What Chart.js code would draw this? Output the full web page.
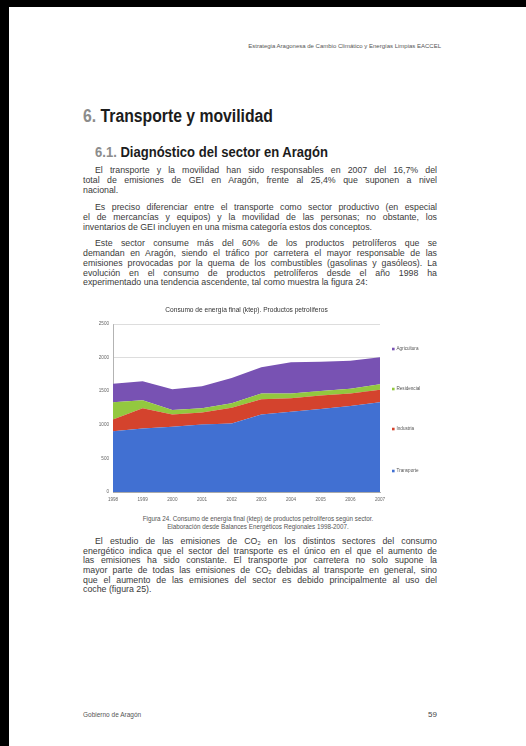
<!DOCTYPE html>
<html>
<head>
<meta charset="utf-8">
<script src="https://cdn.jsdelivr.net/npm/chart.js@4/dist/chart.umd.min.js"></script>
<style>
  html, body { margin: 0; padding: 0; background: #000; width: 526px; height: 746px; overflow: hidden; }
  #page { position: absolute; left: 9px; top: 7px; width: 517px; height: 739px; background: #fff; }
  .t { position: absolute; white-space: nowrap; font-family: "Liberation Sans", Arial, sans-serif; color: #3a3a3a; }
  .body { font-size: 8.8px; line-height: 10px; height: 10px; }
  .jus { text-align: justify; text-align-last: justify; }
  .h { font-weight: bold; color: #1c1c1c; transform-origin: 0 50%; }
  .num { color: #8c8c8c; }
  .small { font-size: 6px; color: #555; line-height: 8px; }
  #chartBox { position: absolute; left: 88px; top: 301px; width: 352px; height: 206px; }
</style>
</head>
<body>
<div id="page"></div>

<div class="t small" id="hdr" style="top:42px;right:85px;">Estrategia Aragonesa de Cambio Climático y Energías Limpias EACCEL</div>

<div class="t h" data-fit="190" style="left:83px;top:105px;font-size:18px;line-height:22px;"><span class="num">6.</span> Transporte y movilidad</div>
<div class="t h" data-fit="233" style="left:95px;top:143px;font-size:14px;line-height:18px;"><span class="num">6.1.</span> Diagnóstico del sector en Aragón</div>

<div class="t body jus" style="left:95px;top:165px;width:342px;">El transporte y la movilidad han sido responsables en 2007 del 16,7% del</div>
<div class="t body jus" style="left:83px;top:175px;width:354px;">total de emisiones de GEI en Aragón, frente al 25,4% que suponen a nivel</div>
<div class="t body" style="left:83px;top:184.5px;">nacional.</div>

<div class="t body jus" style="left:95px;top:202.3px;width:342px;">Es preciso diferenciar entre el transporte como sector productivo (en especial</div>
<div class="t body jus" style="left:83px;top:212.3px;width:354px;">el de mercancías y equipos) y la movilidad de las personas; no obstante, los</div>
<div class="t body" style="left:83px;top:222.3px;">inventarios de GEI incluyen en una misma categoría estos dos conceptos.</div>

<div class="t body jus" style="left:95px;top:238.3px;width:342px;">Este sector consume más del 60% de los productos petrolíferos que se</div>
<div class="t body jus" style="left:83px;top:248px;width:354px;">demandan en Aragón, siendo el tráfico por carretera el mayor responsable de las</div>
<div class="t body jus" style="left:83px;top:257.7px;width:354px;">emisiones provocadas por la quema de los combustibles (gasolinas y gasóleos). La</div>
<div class="t body jus" style="left:83px;top:267.5px;width:354px;">evolución en el consumo de productos petrolíferos desde el año 1998 ha</div>
<div class="t body" style="left:83px;top:277.3px;">experimentado una tendencia ascendente, tal como muestra la figura 24:</div>

<div id="chartBox"><canvas id="chart"></canvas></div>

<div class="t small" style="left:0;width:516px;text-align:center;top:515px;font-size:6.3px;">Figura 24. Consumo de energía final (ktep) de productos petrolíferos según sector.</div>
<div class="t small" style="left:0;width:516px;text-align:center;top:523px;font-size:6.3px;">Elaboración desde Balances Energéticos Regionales 1998-2007.</div>

<div class="t body jus" style="left:95px;top:536px;width:342px;">El estudio de las emisiones de CO<sub style="font-size:5.5px;vertical-align:-1px;">2</sub> en los distintos sectores del consumo</div>
<div class="t body jus" style="left:83px;top:545.7px;width:354px;">energético indica que el sector del transporte es el único en el que el aumento de</div>
<div class="t body jus" style="left:83px;top:555.3px;width:354px;">las emisiones ha sido constante. El transporte por carretera no solo supone la</div>
<div class="t body jus" style="left:83px;top:565px;width:354px;">mayor parte de todas las emisiones de CO<sub style="font-size:5.5px;vertical-align:-1px;">2</sub> debidas al transporte en general, sino</div>
<div class="t body jus" style="left:83px;top:574.5px;width:354px;">que el aumento de las emisiones del sector es debido principalmente al uso del</div>
<div class="t body" style="left:83px;top:584.3px;">coche (figura 25).</div>

<div class="t small" style="left:83px;top:711px;font-size:6.5px;">Gobierno de Aragón</div>
<div class="t" style="right:89px;top:710px;font-size:8px;color:#444;">59</div>

<script>
// squeeze lines that are wider than their box, scale headings to width
document.querySelectorAll('.jus').forEach(function (el) {
  var w = parseFloat(el.style.width);
  el.style.width = 'auto';
  var natural = el.getBoundingClientRect().width;
  if (natural > w) {
    var n = el.textContent.length;
    el.style.letterSpacing = ((w - natural) / n) + 'px';
  }
  el.style.width = w + 'px';
});
document.querySelectorAll('[data-fit]').forEach(function (el) {
  var target = parseFloat(el.getAttribute('data-fit'));
  var natural = el.getBoundingClientRect().width;
  el.style.transform = 'scaleX(' + (target / natural) + ')';
});

// Consumo de energía final (ktep), productos petrolíferos
var years = ['1998', '1999', '2000', '2001', '2002', '2003', '2004', '2005', '2006', '2007'];
var transporte = [905, 945, 970, 1005, 1020, 1155, 1195, 1235, 1280, 1335];
var industria = [175, 300, 185, 180, 235, 225, 200, 200, 185, 185];
var residencial = [255, 120, 65, 60, 65, 85, 70, 70, 70, 85];
var agricultura = [275, 285, 310, 330, 375, 390, 465, 435, 420, 400];
var yTicks = [0, 500, 1000, 1500, 2000, 2500];

var seriesNames = ['Transporte', 'Industria', 'Residencial', 'Agricultura'];
var seriesData = [transporte, industria, residencial, agricultura];
var seriesColors = ['#4170d2', '#d4432d', '#93c83f', '#7852b3'];

// legend like the excel one: spread down the right side
var legendOffsets = [147, 105, 65, 25];
var sideLegend = {
  id: 'sideLegend',
  afterDraw: function (chart) {
    var ctx = chart.ctx;
    var a = chart.chartArea;
    ctx.save();
    ctx.font = '4.6px "Liberation Sans", Arial, sans-serif';
    ctx.textBaseline = 'middle';
    chart.data.datasets.forEach(function (ds, i) {
      var y = a.top + legendOffsets[i];
      ctx.fillStyle = ds.backgroundColor;
      ctx.fillRect(a.right + 12, y - 1.3, 2.6, 2.6);
      ctx.fillStyle = '#555';
      ctx.fillText(ds.label, a.right + 16.5, y);
    });
    ctx.restore();
  }
};

var datasets = [];
for (var i = 0; i < seriesNames.length; i++) {
  datasets.push({
    label: seriesNames[i],
    data: seriesData[i],
    backgroundColor: seriesColors[i],
    borderWidth: 0,
    pointRadius: 0,
    fill: i === 0 ? 'origin' : '-1',
    tension: 0
  });
}

new Chart(document.getElementById('chart').getContext('2d'), {
  type: 'line',
  data: { labels: years, datasets: datasets },
  plugins: [sideLegend],
  options: {
    responsive: true,
    maintainAspectRatio: false,
    animation: false,
    layout: { autoPadding: false, padding: { right: 60 } },
    plugins: {
      legend: { display: false },
      tooltip: { enabled: false },
      title: {
        display: true,
        fullSize: false,
        text: 'Consumo de energía final (ktep). Productos petrolíferos',
        color: '#333',
        font: { family: '"Liberation Sans", Arial, sans-serif', size: 6.6, weight: 'normal' },
        padding: { top: 5, bottom: 10.1 }
      }
    },
    scales: {
      x: {
        offset: false,
        grid: { display: false, drawTicks: false },
        border: { display: true, color: '#a0a0a0', width: 0.8 },
        ticks: {
          color: '#666',
          font: { size: 4.6, family: '"Liberation Sans", Arial, sans-serif' },
          padding: 4.5,
          maxRotation: 0,
          autoSkip: false
        },
        afterFit: function (s) { s.height = 15; }
      },
      y: {
        stacked: true,
        min: 0,
        max: 2500,
        afterBuildTicks: function (s) {
          s.ticks = yTicks.map(function (v) { return { value: v }; });
        },
        grid: { color: '#d4d4d4', lineWidth: 0.8, drawTicks: false },
        border: { display: true, color: '#a0a0a0', width: 0.8 },
        ticks: {
          color: '#666',
          font: { size: 4.6, family: '"Liberation Sans", Arial, sans-serif' },
          padding: 4,
          callback: function (v) { return String(v); }
        },
        afterFit: function (s) { s.width = 25; }
      }
    }
  }
});
</script>
</body>
</html>
